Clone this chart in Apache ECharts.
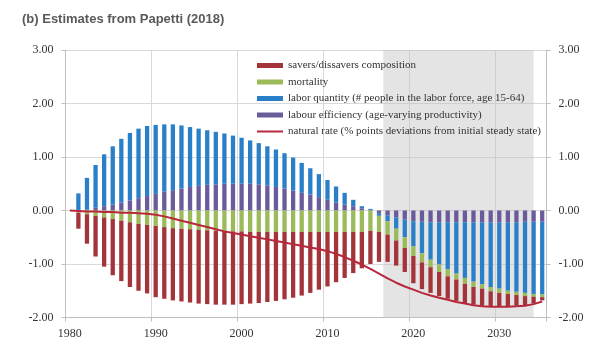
<!DOCTYPE html>
<html><head><meta charset="utf-8">
<script src="https://cdn.jsdelivr.net/npm/echarts@6/dist/echarts.min.js"></script>
<style>html,body{margin:0;padding:0;background:#fff}#c{width:608px;height:346px}</style>
</head><body><div id="c"></div>
<script>
const years = [];
for (let y = 1980; y <= 2035; y++) years.push(String(y));
const yTicks = [-2, -1, 0, 1, 2, 3];
const shadeStart = 2016.5, shadeEnd = 2034.0;

const efficiency = [0,0.01,0.02,0.05,0.08,0.11,0.15,0.19,0.23,0.27,0.31,0.35,0.38,0.41,0.44,0.46,0.48,0.49,0.50,0.50,
0.50,0.50,0.49,0.47,0.44,0.41,0.37,0.33,0.30,0.25,0.20,0.15,0.11,0.08,0.04,0.01,-0.05,-0.09,-0.13,-0.17,
-0.20,-0.21,-0.22,-0.22,-0.22,-0.22,-0.22,-0.22,-0.22,-0.22,-0.22,-0.22,-0.22,-0.21,-0.21,-0.21];
const quantity = [0,0.31,0.59,0.80,0.97,1.09,1.19,1.26,1.30,1.31,1.29,1.26,1.23,1.18,1.12,1.07,1.02,0.98,0.94,0.90,
0.86,0.81,0.77,0.73,0.70,0.66,0.62,0.56,0.49,0.43,0.37,0.30,0.22,0.12,0.04,0.02,-0.05,-0.11,-0.21,-0.33,
-0.47,-0.59,-0.70,-0.79,-0.88,-0.96,-1.04,-1.11,-1.16,-1.21,-1.24,-1.28,-1.30,-1.33,-1.35,-1.36];
const mortality = [0,-0.04,-0.07,-0.10,-0.13,-0.16,-0.19,-0.22,-0.25,-0.27,-0.29,-0.31,-0.33,-0.34,-0.35,-0.36,-0.37,-0.38,-0.38,-0.39,
-0.39,-0.40,-0.40,-0.40,-0.40,-0.40,-0.40,-0.40,-0.40,-0.40,-0.40,-0.40,-0.40,-0.40,-0.40,-0.38,-0.30,-0.25,-0.22,-0.20,
-0.18,-0.17,-0.14,-0.14,-0.13,-0.11,-0.11,-0.10,-0.08,-0.08,-0.08,-0.06,-0.06,-0.06,-0.05,-0.05];
const savers = [0,-0.30,-0.55,-0.76,-0.92,-1.05,-1.13,-1.21,-1.25,-1.28,-1.33,-1.34,-1.35,-1.36,-1.37,-1.38,-1.38,-1.38,-1.38,-1.37,
-1.36,-1.34,-1.33,-1.31,-1.29,-1.26,-1.23,-1.19,-1.14,-1.08,-1.02,-0.94,-0.86,-0.77,-0.68,-0.62,-0.56,-0.51,-0.47,-0.45,
-0.51,-0.50,-0.48,-0.45,-0.42,-0.40,-0.36,-0.33,-0.32,-0.28,-0.25,-0.23,-0.20,-0.17,-0.13,-0.06];
const naturalRate = [0,-0.01,-0.02,-0.02,-0.03,-0.03,-0.04,-0.04,-0.05,-0.06,-0.08,-0.11,-0.15,-0.19,-0.23,-0.27,-0.31,-0.35,-0.39,-0.42,
-0.45,-0.48,-0.51,-0.54,-0.57,-0.60,-0.63,-0.66,-0.69,-0.72,-0.76,-0.81,-0.87,-0.94,-1.01,-1.09,-1.18,-1.27,-1.35,-1.42,
-1.48,-1.54,-1.59,-1.63,-1.67,-1.71,-1.74,-1.77,-1.79,-1.80,-1.80,-1.80,-1.79,-1.78,-1.75,-1.70];

const names = {
  savers: 'savers/dissavers composition',
  mortality: 'mortality',
  quantity: 'labor quantity (# people in the labor force, age 15-64)',
  efficiency: 'labour efficiency (age-varying productivity)',
  rate: 'natural rate (% points deviations from initial steady state)'
};
const colors = { savers:'#a3353a', mortality:'#9bbb59', quantity:'#2a80c8', efficiency:'#6b5b9a', rate:'#b8283c' };

const serif = '"Liberation Serif","DejaVu Serif",serif';
const axisLineStyle = { color:'#bfbfbf', width:1 };
const yAxisBase = {
  type:'value', min:-2, max:3, interval:1,
  axisLine:{show:true, lineStyle:axisLineStyle},
  axisTick:{show:true, length:4, lineStyle:axisLineStyle},
  axisLabel:{fontFamily:serif, fontSize:12, color:'#333', margin:12, formatter:v=>v.toFixed(2)}
};

const chart = echarts.init(document.getElementById('c'), null, {renderer:'canvas'});
const barCommon = { type:'bar', stack:'total', barWidth:'50%', xAxisIndex:0, yAxisIndex:0 };
chart.setOption({
  animation:false,
  title:{ text:'(b) Estimates from Papetti (2018)', left:17, top:8,
    textStyle:{ fontFamily:'"Liberation Sans",Arial,sans-serif', fontSize:13, fontWeight:'bold', color:'#595959' } },
  grid:{ left:65.5, right:61.5, top:50, bottom:28.5 },
  legend:{ orient:'vertical', left:257, top:59, padding:0, itemWidth:26, itemHeight:5, itemGap:3.5,
    textStyle:{ fontFamily:serif, fontSize:11, color:'#333', lineHeight:13 },
    data:[
      {name:names.savers, icon:'rect'},
      {name:names.mortality, icon:'rect'},
      {name:names.quantity, icon:'rect'},
      {name:names.efficiency, icon:'rect'},
      {name:names.rate, icon:'path://M0,0H26V2H0Z'}
    ] },
  xAxis:[
    { type:'category', data:years, boundaryGap:true,
      axisLine:{show:true, onZero:false, lineStyle:axisLineStyle},
      axisTick:{show:true, interval:9, length:4, lineStyle:axisLineStyle},
      splitLine:{show:true, interval:9, lineStyle:{color:'#d9d9d9'}},
      axisLabel:{interval:9, fontFamily:serif, fontSize:12, color:'#333', margin:10} },
    { type:'value', min:1979.5, max:2035.5, show:false }
  ],
  yAxis:[
    Object.assign({}, yAxisBase, { position:'left', splitLine:{show:true, lineStyle:{color:'#d9d9d9'}} }),
    Object.assign({}, yAxisBase, { position:'right', splitLine:{show:false} })
  ],
  series:[
    { type:'line', xAxisIndex:1, yAxisIndex:0, data:[], silent:true,
      markArea:{ silent:true, itemStyle:{color:'rgba(190,190,190,0.42)'},
        data:[[ {xAxis:shadeStart, yAxis:-2}, {xAxis:shadeEnd, yAxis:3} ]] } },
    Object.assign({}, barCommon, { name:names.efficiency, data:efficiency, itemStyle:{color:colors.efficiency} }),
    Object.assign({}, barCommon, { name:names.quantity, data:quantity, itemStyle:{color:colors.quantity} }),
    Object.assign({}, barCommon, { name:names.mortality, data:mortality, itemStyle:{color:colors.mortality} }),
    Object.assign({}, barCommon, { name:names.savers, data:savers, itemStyle:{color:colors.savers} }),
    { type:'line', name:names.rate, data:naturalRate, symbol:'none', z:5,
      lineStyle:{color:colors.rate, width:2}, itemStyle:{color:colors.rate} }
  ]
});
</script></body></html>
